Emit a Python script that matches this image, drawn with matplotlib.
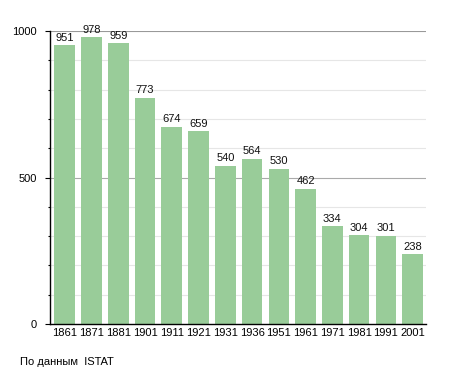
import matplotlib
matplotlib.use("Agg")
import matplotlib.pyplot as plt
import numpy as np

years = ["1861", "1871", "1881", "1901", "1911", "1921", "1931", "1936", "1951", "1961", "1971", "1981", "1991", "2001"]
population = [951, 978, 959, 773, 674, 659, 540, 564, 530, 462, 334, 304, 301, 238]

plt.rcParams['font.family'] = ['Liberation Sans', 'DejaVu Sans']
fig = plt.figure(figsize=(4.55, 3.73), dpi=100)
ax = fig.add_axes([50/455, 49/373, 376/455, 293/373])

x = np.arange(len(years))
bars = ax.bar(x, population, width=0.77, color="#99cc99", edgecolor="none", zorder=2)
for xi, v in zip(x, population):
    ax.text(xi, v + 8, str(v), ha="center", va="bottom", fontsize=8, color="#111111", zorder=3)

ax.set_xlim(-0.55, len(years) - 0.5)
ax.set_ylim(0, 1000)
ax.set_yticks([0, 500, 1000])
ax.set_yticks(np.arange(0, 1001, 100), minor=True)
ax.set_xticks(x)
ax.set_xticklabels(years, fontsize=8)
ax.tick_params(axis="y", which="major", length=3.5, width=0.8, labelsize=8, pad=6)
ax.tick_params(axis="y", which="minor", length=1.5, width=0.8)
ax.tick_params(axis="x", length=0, pad=3)
for y in range(100, 1000, 100):
    ax.axhline(y, color="#aaaaaa" if y == 500 else "#e6e6e6", lw=0.8, zorder=1)
ax.axhline(1000, color="#999999", lw=0.8, zorder=1)
for s in ["top", "right"]:
    ax.spines[s].set_visible(False)
ax.spines["left"].set_linewidth(1.0)
ax.spines["bottom"].set_linewidth(1.0)

fig.text(20/455, 1 - 362/373, "По данным  ISTAT", fontsize=8, va="center", ha="left")
fig.savefig("out.png", dpi=100)
